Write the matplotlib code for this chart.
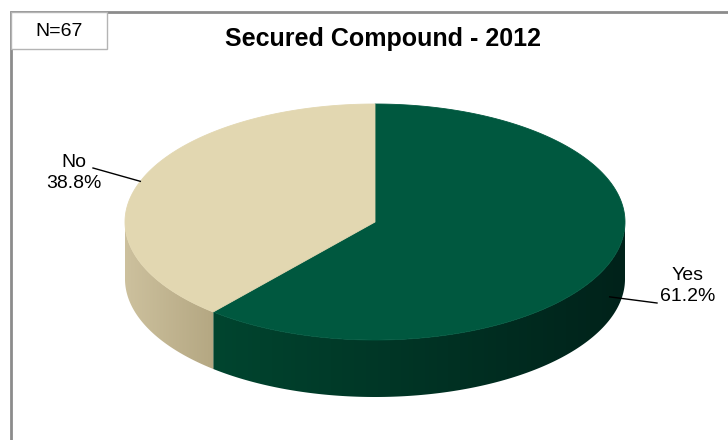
import numpy as np
import matplotlib.pyplot as plt
from matplotlib.colors import to_rgb
from matplotlib.patches import Polygon, Rectangle

# chart data
labels = ["Yes", "No"]
shares = [61.2, 38.8]
top_colours = ["#00583f", "#e2d7b1"]
side_colours = [("#00452f", "#00221a"), ("#cdc19e", "#b4a782")]
n_text = "N=67"
title = "Secured Compound - 2012"

plt.rcParams["font.family"] = ["Liberation Sans", "DejaVu Sans"]

fig = plt.figure(figsize=(7.28, 4.4), dpi=100)
ax = fig.add_axes([0, 0, 1, 1])
ax.set_xlim(0, 728)
ax.set_ylim(440, 0)
ax.axis("off")

# pie geometry (screen units)
cx, cy, a, b, depth = 375, 222, 250, 118, 57


def rim(t):
    t = np.radians(t)
    return cx + a * np.cos(t), cy - b * np.sin(t)


# slices start at 12 o'clock and go clockwise
fracs = np.array(shares) / sum(shares)
ends = 90 - 360 * np.cumsum(fracs)
starts = np.r_[90, ends[:-1]]

# side walls (front half only), shaded left to right
for s, e, (c0, c1) in zip(starts, ends, side_colours):
    lo, hi = max(e, -180), min(s, 0)
    if lo >= hi:
        continue
    ts = np.linspace(lo, hi, 200)
    xs, ys = rim(ts)
    pts = list(zip(xs, ys)) + list(zip(xs[::-1], ys[::-1] + depth))
    wall = Polygon(pts, closed=True, facecolor="none", edgecolor="none")
    ax.add_patch(wall)
    xmin, xmax = xs.min(), xs.max()
    f = np.linspace(0, 1, 256)[None, :, None]
    grad = np.array(to_rgb(c0)) + (np.array(to_rgb(c1)) - np.array(to_rgb(c0))) * f
    im = ax.imshow(grad, extent=(xmin - 1, xmax + 1, ys.max() + depth + 1,
                                 ys.min() - 1),
                   aspect="auto", interpolation="bilinear", zorder=1)
    im.set_clip_path(wall)

# top faces
for s, e, col in zip(starts, ends, top_colours):
    ts = np.linspace(s, e, 200)
    xs, ys = rim(ts)
    pts = [(cx, cy)] + list(zip(xs, ys))
    ax.add_patch(Polygon(pts, closed=True, facecolor=col, edgecolor=col,
                         lw=0.6, zorder=2))

ax.set_xlim(0, 728)
ax.set_ylim(440, 0)

# labels with leader lines
mids = (starts + ends) / 2
label_pos = [(688, 286), (74, 173)]
line_start = [(657, 303), (93, 168)]
for lab, val, m, (tx, ty), (lx, ly) in zip(labels, shares, mids,
                                           label_pos, line_start):
    px, py = rim(m)
    if np.sin(np.radians(m)) < 0:
        py = py + depth * 0.6
    ax.plot([lx, px], [ly, py], color="black", lw=1, zorder=3)
    ax.text(tx, ty, "{}\n{:.1f}%".format(lab, val), ha="center",
            va="center", fontsize=14, linespacing=1.3)

# frame, N box and title
ax.plot([11, 11, 728], [440, 12, 12], color="#8c8c8c", lw=2,
        solid_joinstyle="miter")
ax.add_patch(Rectangle((11, 12), 96, 37, facecolor="white",
                       edgecolor="#b4b4b4", lw=1, zorder=3))
ax.text(59, 31, n_text, ha="center", va="center", fontsize=14, zorder=4)
ax.text(383, 39, title, ha="center", va="center", fontsize=18,
        fontweight="bold")

fig.savefig("out.png", dpi=100)
